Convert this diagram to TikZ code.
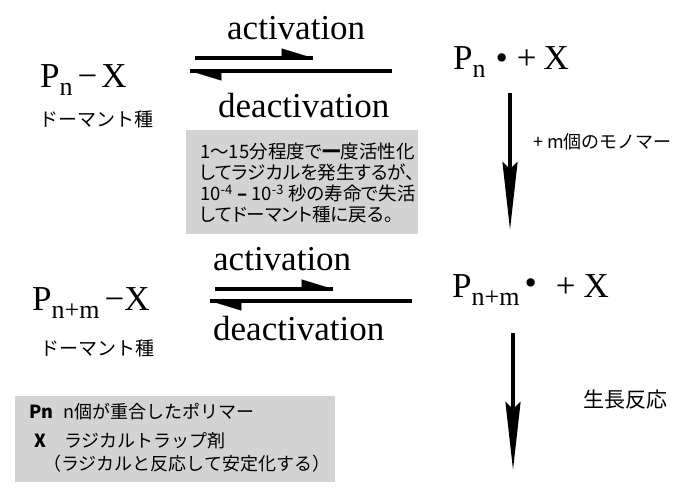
\documentclass[tikz,border=0pt]{standalone}
\usepackage{fontspec}
\setmainfont{Liberation Serif}
\newfontfamily\jpfont{Noto Sans CJK JP}
\newfontfamily\jpnotefont[RawFeature=+palt]{Noto Sans CJK JP}
\usepackage{tikz}
\usetikzlibrary{arrows.meta,positioning}
\usepackage{xcolor}
\definecolor{notegray}{RGB}{211,211,211}

\newcommand{\subidx}[1]{\raisebox{-8pt}{\fontsize{26}{26}\selectfont #1}}

\tikzset{
  species/.style={font=\fontsize{35}{35}\selectfont, inner sep=0pt, anchor=base west},
  ratelabel/.style={font=\fontsize{35}{35}\selectfont, inner sep=0pt, anchor=base west},
  jplabel/.style={font=\jpfont\fontsize{19}{19}\selectfont, inner sep=0pt},
  notebox/.style={fill=notegray, inner sep=0pt, anchor=north west},
  notetext/.style={font=\jpfont, inner sep=0pt, anchor=west, align=left},
  fwdarrow/.style={line width=3.5pt,
    postaction={draw, line width=0.2pt, -{Triangle[harpoon,length=31pt,width=19pt]}}},
  growarrow/.style={line width=3.5pt, -{Stealth[length=68pt,width=15pt,inset=7pt]}},
}

\begin{document}
\begin{tikzpicture}[x=1pt,y=-1pt]
\useasboundingbox (0,0) rectangle (676,487);

% upper equilibrium
\node[species] (dormA) at (40,87) {P\subidx{n}\hspace{5pt}−\hspace{4pt}X};
\node[jplabel] (dormAlbl) at (96,119) {ドーマント種};
\node[species] (radA) at (453,70) {P\subidx{n}\hspace{10pt}•\hspace{9pt}+\hspace{7pt}X};
\node[ratelabel] (actA) at (227,40) {activation};
\node[ratelabel] (deactA) at (218,117) {deactivation};
\coordinate (fwdAs) at (195,58);
\coordinate (fwdAe) at (313,58);
\coordinate (revAs) at (392,71);
\coordinate (revAe) at (190,71);
\draw[fwdarrow] (fwdAs) -- (fwdAe);
\draw[fwdarrow] (revAs) -- (revAe);

% note on lifetime
\node[notebox, minimum width=232pt, minimum height=104pt] (noteA) at (186,130) {};
\node[notetext, font=\jpnotefont\fontsize{18.5}{21}\selectfont] (noteAtxt) at ([xshift=14pt,yshift=-1pt]noteA.west)
  {1〜15分程度で{\bfseries 一}度活性化\\
   してラジカルを発生するが、\\
   10\textsuperscript{-4} {\bfseries –} 10\textsuperscript{-3} 秒の寿命で失活\\
   してドーマント種に戻る。};

% propagation step 1
\coordinate (growAs) at (510,93);
\coordinate (growAe) at (510,230);
\draw[growarrow] (growAs) -- (growAe);
\node[jplabel, font=\jpfont\fontsize{18}{18}\selectfont, anchor=west] (monoLbl) at (533,142) {+ m個のモノマー};

% lower equilibrium
\node[species] (dormB) at (32,310) {P\subidx{n+m}\hspace{5pt}−X};
\node[jplabel] (dormBlbl) at (97,348) {ドーマント種};
\node[species] (radB) at (452,297) {P\subidx{n+m}\hspace{5pt}\raisebox{3pt}{•}\hspace{19pt}+\hspace{8pt}X};
\node[ratelabel] (actB) at (213,270) {activation};
\node[ratelabel] (deactB) at (213,340) {deactivation};
\coordinate (fwdBs) at (215,289);
\coordinate (fwdBe) at (333,289);
\coordinate (revBs) at (412,301);
\coordinate (revBe) at (210,301);
\draw[fwdarrow] (fwdBs) -- (fwdBe);
\draw[fwdarrow] (revBs) -- (revBe);

% propagation step 2
\coordinate (growBs) at (513,333);
\coordinate (growBe) at (513,470);
\draw[growarrow] (growBs) -- (growBe);
\node[jplabel, font=\jpfont\fontsize{21}{21}\selectfont, anchor=west] (growLbl) at (583,400) {生長反応};

% legend
\node[notebox, minimum width=320pt, minimum height=86pt] (legend) at (15,396) {};
\node[notetext, font=\jpfont\fontsize{18}{18}\selectfont] (legPn) at (29,412) {{\bfseries Pn}\hspace{10pt}n個が重合したポリマー};
\node[notetext, font=\jpfont\fontsize{18}{18}\selectfont] (legX) at (34,441) {{\bfseries X}\hspace{18pt}ラジカルトラップ剤};
\node[notetext, font=\jpfont\fontsize{18}{18}\selectfont] (legXnote) at (43,464) {（ラジカルと反応して安定化する）};
\end{tikzpicture}
\end{document}
